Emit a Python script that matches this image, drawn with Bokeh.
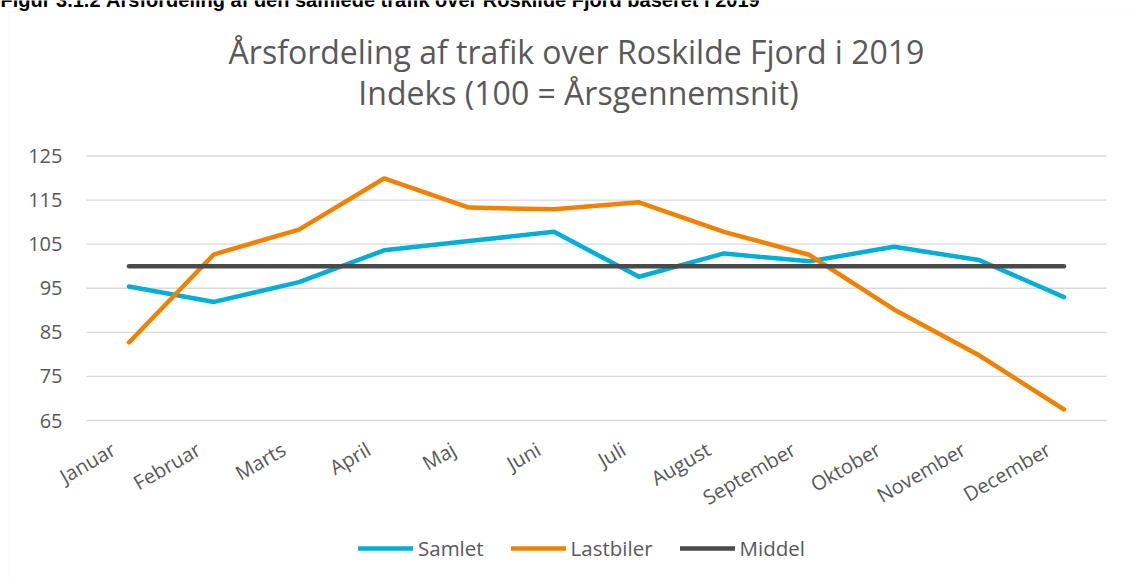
import numpy as np
from bokeh.plotting import figure
from bokeh.models import (Range1d, FixedTicker, Label, Legend, LegendItem,
                          BoxAnnotation)
from bokeh.embed import file_html
from bokeh.resources import INLINE

months = ["Januar", "Februar", "Marts", "April", "Maj", "Juni", "Juli",
          "August", "September", "Oktober", "November", "December"]
samlet = [95.4, 91.9, 96.4, 103.6, 105.7, 107.8, 97.6, 102.9, 101.1, 104.4, 101.4, 93.0]
lastbiler = [82.7, 102.7, 108.3, 119.9, 113.3, 112.9, 114.5, 107.8, 102.6, 90.2, 79.8, 67.5]
middel = [100] * 12
y_ticks = [65, 75, 85, 95, 105, 115, 125]

title1 = "Årsfordeling af trafik over Roskilde Fjord i 2019"
title2 = "Indeks (100 = Årsgennemsnit)"
caption = "Figur 3.1.2 Årsfordeling af den samlede trafik over Roskilde Fjord baseret i 2019"

W, H = 1134, 579
# plot-area edges in canvas pixels (the frame itself spans the whole canvas,
# the axes are pinned at the plot-area edges)
PL, PR, PT, PB = 86, 1106, 155.5, 420
Y0, Y1 = 65, 125
NX = len(months)

def px(cx):
    return (cx - PL) / (PR - PL) * NX

def py(cy):
    return Y0 + (PB - cy) / (PB - PT) * (Y1 - Y0)

xpos = [i + 0.5 for i in range(NX)]           # categorical slot centres
label_pos = [x - 0.18 for x in xpos]          # rotated labels end left of slot centre

FONT = "Open Sans"
TXT = "#595959"

p = figure(width=W, height=H, output_backend="svg", toolbar_location=None,
           x_range=Range1d(px(0), px(W)), y_range=Range1d(py(H), py(0)),
           min_border=0)
p.outline_line_color = None
p.background_fill_color = "white"
p.border_fill_color = "white"
p.xgrid.grid_line_color = None
p.ygrid.grid_line_color = None

# axes pinned to the plot-area edges
p.xaxis.fixed_location = Y0
p.xaxis.ticker = FixedTicker(ticks=label_pos)
p.xaxis.major_label_overrides = {x: m for x, m in zip(label_pos, months)}
p.xaxis.major_label_orientation = np.pi / 6
p.xaxis.axis_line_color = None
p.xaxis.major_tick_line_color = None
p.xaxis.minor_tick_line_color = None
p.xaxis.major_tick_out = 0
p.xaxis.major_tick_in = 0
p.xaxis.major_label_text_font = FONT
p.xaxis.major_label_text_font_size = "20px"
p.xaxis.major_label_text_color = TXT
p.xaxis.major_label_standoff = 27

p.yaxis.fixed_location = 0
p.yaxis.ticker = FixedTicker(ticks=y_ticks)
p.yaxis.axis_line_color = None
p.yaxis.major_tick_line_color = None
p.yaxis.minor_tick_line_color = None
p.yaxis.major_tick_out = 0
p.yaxis.major_tick_in = 0
p.yaxis.major_label_text_font = FONT
p.yaxis.major_label_text_font_size = "20px"
p.yaxis.major_label_text_color = TXT
p.yaxis.major_label_standoff = 24

# horizontal gridlines across the plot area
p.segment(x0=[0] * len(y_ticks), x1=[NX] * len(y_ticks), y0=y_ticks, y1=y_ticks,
          line_color="#D9D9D9", line_width=1.4)

r1 = p.line(xpos, samlet, line_color="#00AEDA", line_width=4.5, line_cap="round", line_join="round")
r2 = p.line(xpos, lastbiler, line_color="#F08200", line_width=4.5, line_cap="round", line_join="round")
r3 = p.line(xpos, middel, line_color="#4A4A4A", line_width=4.5, line_cap="round", line_join="round")

# chart border (right and bottom edges fall outside the picture)
p.add_layout(BoxAnnotation(left=px(8.5), right=px(W + 50), top=py(11.5), bottom=py(H + 50),
                           fill_color=None, fill_alpha=0, line_color="#D9D9D9", line_width=1))

# titles
p.add_layout(Label(x=px(576), y=py(51), text=title1, text_align="center",
                   text_baseline="alphabetic", text_font=FONT,
                   text_font_size="32px", text_color=TXT))
p.add_layout(Label(x=px(578), y=py(92), text=title2, text_align="center",
                   text_baseline="alphabetic", text_font=FONT,
                   text_font_size="32px", text_color=TXT))
p.add_layout(Label(x=px(0), y=py(-1), text=caption, text_align="left",
                   text_baseline="alphabetic", text_font="Liberation Sans",
                   text_font_style="bold", text_font_size="20px", text_color="black"))

legend = Legend(items=[LegendItem(label="Samlet", renderers=[r1]),
                       LegendItem(label="Lastbiler", renderers=[r2]),
                       LegendItem(label="Middel", renderers=[r3])],
                orientation="horizontal", location=(358, 17),
                glyph_width=55, glyph_height=20, label_standoff=5, spacing=27,
                padding=0, margin=0, border_line_color=None,
                background_fill_alpha=0,
                label_text_font=FONT, label_text_font_size="20.5px",
                label_text_color=TXT)
p.add_layout(legend, "center")

open("out.html", "w").write(file_html(p, INLINE))
